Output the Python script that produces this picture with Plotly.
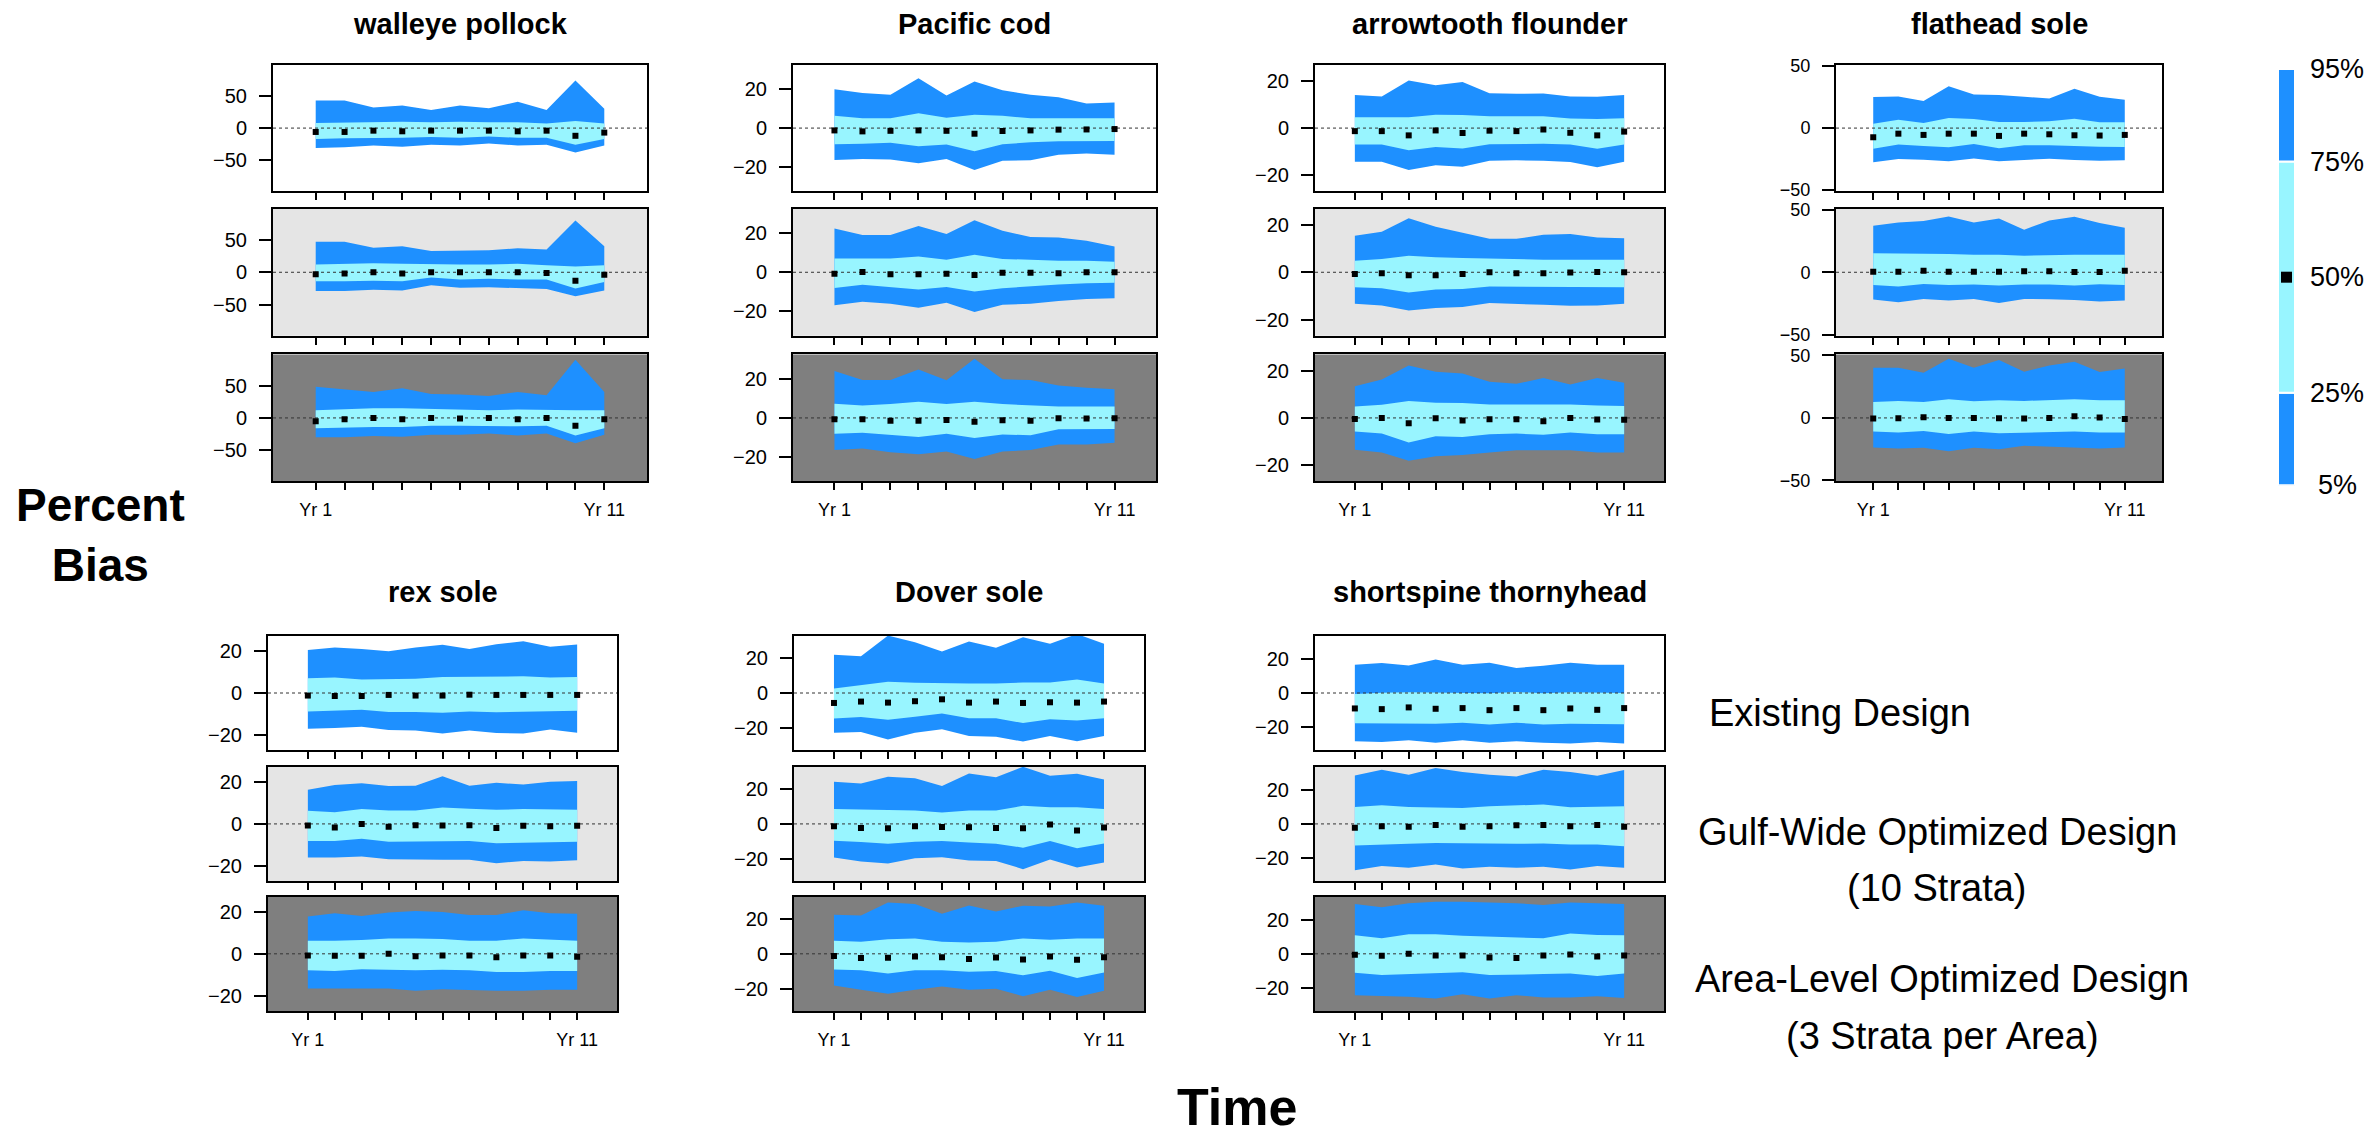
import plotly.graph_objects as go

# ---------------------------------------------------------------------------
# Percent bias quantiles by year (Yr 1 .. Yr 11).
# Each list holds three rows: Existing, Gulf-Wide (10 strata), Area-Level.
# ---------------------------------------------------------------------------
years = list(range(1, 12))
year_labels = ["Yr 1"] + [""] * 9 + ["Yr 11"]

species_names = ["walleye pollock", "Pacific cod", "arrowtooth flounder", "flathead sole",
                 "rex sole", "Dover sole", "shortspine thornyhead"]

walleye_q95 = [[43, 43, 32, 35, 28, 35, 31, 41, 28, 74, 30],
               [47, 47, 38, 40, 33, 33, 34, 37, 35, 80, 40],
               [48, 44, 40, 46, 37, 36, 34, 40, 35, 90, 40]]
walleye_q75 = [[8, 9, 10, 10, 9, 10, 9, 9, 7, 11, 7],
               [12, 13, 14, 13, 12, 12, 12, 13, 11, 9, 11],
               [12, 14, 15, 15, 14, 13, 12, 13, 12, 12, 12]]
walleye_q50 = [[-6, -6, -4, -5, -4, -4, -4, -5, -4, -12, -7],
               [-3, -2, 0, -2, 0, 0, 0, 0, -1, -13, -4],
               [-5, -2, 0, -2, 0, -1, 0, -2, 0, -12, -2]]
walleye_q25 = [[-17, -16, -15, -15, -14, -15, -13, -15, -15, -26, -17],
               [-14, -14, -13, -14, -8, -11, -10, -11, -11, -25, -15],
               [-16, -15, -14, -14, -12, -12, -12, -13, -12, -27, -16]]
walleye_q05 = [[-31, -30, -27, -29, -26, -27, -24, -27, -26, -38, -27],
               [-29, -29, -27, -28, -20, -24, -23, -25, -26, -37, -28],
               [-30, -30, -28, -29, -26, -26, -24, -27, -24, -39, -26]]

cod_q95 = [[20, 18.1, 17.1, 25.6, 16.8, 24, 19.5, 17.1, 15.8, 12.7, 13.2],
           [22.4, 19, 19, 23.6, 19.5, 26.6, 21.2, 18, 17.8, 16.1, 13.2],
           [23.9, 19.3, 19.3, 24.7, 19.2, 30.2, 19.7, 19.3, 16.6, 15.4, 14.6]]
cod_q75 = [[6.4, 5.1, 5.1, 7.6, 5.3, 6.8, 6.3, 5.1, 5.1, 5.1, 5.1],
           [7, 7, 7, 8.1, 6.4, 9, 6.8, 6.4, 5.9, 5.9, 5.4],
           [7.3, 6.3, 7.1, 8.3, 7.1, 8.3, 7.1, 6.3, 5.8, 5.8, 5.8]]
cod_q50 = [[-1.2, -1.7, -1.4, -1.2, -1.4, -2.9, -1.5, -1.2, -0.8, -0.7, -0.5],
           [-0.7, 0.2, -1, -1, -0.8, -1.4, -0.3, -0.2, -0.5, 0, 0],
           [-0.7, -0.7, -1.4, -1.4, -1, -1.9, -1.2, -1.4, -0.2, -0.3, -0.2]]
cod_q25 = [[-8.3, -8, -7.6, -9.3, -8.5, -11.9, -8.3, -7.3, -6.8, -6.6, -6.6],
           [-8, -6.4, -7.6, -8.8, -7.5, -9.8, -8.1, -7.3, -6.3, -5.6, -5.4],
           [-8.1, -7.5, -8.6, -9.7, -8.1, -10.3, -8.5, -8.8, -5.8, -5.6, -5.6]]
cod_q05 = [[-16.4, -15.9, -16.1, -18.1, -15.9, -21.5, -16.8, -16.6, -13.7, -13.1, -13.7],
           [-16.8, -15.1, -16.1, -18.1, -15.6, -20.3, -16.6, -16.1, -14.7, -13.7, -13.2],
           [-16.4, -15.6, -17.5, -18.5, -17.1, -21, -17.1, -16.4, -13.6, -13.6, -12.7]]

arrowtooth_q95 = [[14.1, 13.4, 20.3, 18.2, 19.6, 14.8, 14.6, 14.7, 13.4, 13.3, 14.1],
                  [15.4, 17.1, 22.8, 19.2, 16.7, 14.1, 14.1, 15.8, 16.2, 14.7, 14.4],
                  [13.4, 16.2, 22.1, 19.5, 18.8, 15.3, 14.4, 16.9, 14.1, 16.9, 14.8]]
arrowtooth_q75 = [[4.6, 4.6, 4.6, 5.7, 5.6, 5, 5, 5, 4.1, 3.9, 4.2],
                  [4.9, 5.6, 7, 6.3, 6, 5.7, 5.6, 5.3, 5.3, 5.3, 5.3],
                  [4.8, 5.6, 7.1, 6.4, 6.3, 5.7, 5.7, 5.7, 5.7, 5.3, 5]]
arrowtooth_q50 = [[-1.3, -1.3, -3.1, -1, -2.1, -1.1, -1.3, -0.6, -2, -3.1, -1.5],
                  [-0.7, -0.4, -1.3, -1.3, -0.7, 0, -0.4, -0.4, -0.1, 0.1, 0],
                  [-0.4, 0, -2.2, -0.1, -1.1, -0.6, -0.6, -1.4, 0, -0.7, -0.8]]
arrowtooth_q25 = [[-7, -7, -9.4, -8, -8.7, -6.9, -6.7, -6.7, -7, -8.8, -7],
                  [-6.3, -6.7, -8.5, -7.3, -7.1, -6, -6.2, -6.3, -6.3, -6.3, -6.3],
                  [-5.7, -6.6, -10.4, -7.7, -8, -6.9, -6.6, -7.1, -6.2, -6.9, -6.9]]
arrowtooth_q05 = [[-14.3, -14.3, -17.8, -15.8, -16.5, -13.9, -13.7, -13.9, -14.4, -16.7, -14.3],
                  [-13.3, -14, -16.1, -15.1, -14.7, -13, -13.3, -13.7, -14.1, -14, -13.3],
                  [-13.4, -14.6, -18.1, -16.2, -15.7, -14.6, -13.6, -13.6, -13.6, -14.6, -14.6]]

flathead_q95 = [[25, 25.5, 21.8, 33.7, 27.1, 26.6, 25.2, 23.9, 31.8, 25.2, 22.9],
                [37.2, 39.9, 41, 44.7, 39.9, 43.1, 34, 41.5, 44.4, 39.4, 35.6],
                [40.2, 40.2, 36.2, 47.3, 40.2, 46.3, 37, 42, 45, 36.7, 39.6]]
flathead_q75 = [[3.4, 6.8, 4.2, 8.2, 7.4, 5, 5, 5.5, 7.6, 4.7, 4.7],
                [15.2, 15.2, 14.6, 14.6, 14.1, 14.1, 13.3, 13.8, 14.1, 14.1, 14.1],
                [12.8, 13.6, 12.8, 14.9, 13.3, 14.1, 13.6, 14.1, 14.9, 14.1, 14.1]]
flathead_q50 = [[-7.4, -4.5, -5.5, -4.5, -4.5, -6.3, -4.5, -5, -5.8, -6, -5.5],
                [0.5, 0.5, 1.3, 0.5, 0.5, 0.5, 0.8, 0.8, 0.3, 0.3, 1.3],
                [-0.5, -0.3, 0.5, 0, 0, -0.3, -0.5, 0, 1.3, 0.3, -0.8]]
flathead_q25 = [[-16.6, -13.2, -14.5, -15.5, -12.9, -16.3, -13.9, -13.9, -14.2, -15, -15.3],
                [-10.1, -11.4, -9.3, -10.1, -9.8, -10.6, -9.8, -9.8, -10.6, -9.6, -10.1],
                [-10.9, -11.7, -10.4, -12.8, -10.9, -12.2, -11.7, -11.2, -10.9, -11.7, -11.7]]
flathead_q05 = [[-27.6, -25, -25.5, -26.8, -24.5, -26.8, -25.5, -24.7, -25.8, -26.3, -26],
                [-21.8, -23.9, -21.3, -22.6, -21.3, -24.5, -21.3, -21.5, -22.1, -23.4, -22.6],
                [-23.7, -24.5, -23.9, -26.6, -23.9, -25, -22.3, -23.1, -23.9, -24.5, -23.7]]

rex_q95 = [[20.3, 21.5, 20.8, 19.8, 21.5, 22.8, 20.8, 23.1, 24.5, 21.9, 22.9],
           [16.1, 18.4, 19.2, 17.9, 18.1, 22.6, 18.1, 19.5, 18.6, 20, 20.3],
           [17.6, 19.2, 17.9, 19.5, 20.3, 19.8, 18.4, 18.4, 20.6, 19.2, 19]]
rex_q75 = [[7, 7.3, 6.4, 6.7, 6.8, 7.6, 7.6, 7.9, 7.9, 7.3, 7.6],
           [6.2, 5.5, 7, 6.4, 6.4, 7.8, 7.2, 6.7, 7, 7, 6.7],
           [6.2, 6.2, 6.6, 7.3, 7.3, 7, 6.2, 6.2, 7.3, 6.7, 6.2]]
rex_q50 = [[-1.2, -1.4, -1.4, -0.9, -1.2, -1.2, -0.8, -0.9, -0.9, -0.9, -0.9],
           [-0.8, -1.7, 0, -1.4, -0.6, -0.8, -0.6, -1.9, -0.9, -1.1, -0.9],
           [-0.8, -0.9, -0.9, 0, -1.2, -0.8, -0.8, -1.6, -0.8, -0.8, -1.4]]
rex_q25 = [[-8.7, -8.2, -7.9, -9, -9, -9.3, -8.7, -9.1, -8.7, -8.7, -8.4],
           [-8.1, -8.1, -7, -8.4, -8.1, -8.1, -8.1, -9.2, -8.9, -8.6, -8.4],
           [-7.8, -8.1, -7.3, -7.5, -7.8, -7.5, -7.8, -8.6, -8.6, -8.1, -8.1]]
rex_q05 = [[-16.9, -16.6, -16, -17.5, -17.7, -19.1, -17.7, -18.9, -19.1, -17.2, -18.8],
           [-15.9, -15.9, -15.4, -16.7, -17, -17, -17, -18.6, -17.5, -17.8, -17.2],
           [-16.4, -16.5, -16.4, -16.4, -17.5, -16.7, -17.2, -17.5, -17.5, -17, -17]]

dover_q95 = [[21.9, 21, 32.9, 29.1, 23.8, 29.5, 25.9, 31.9, 28.2, 33.8, 28.2],
             [24.2, 23.2, 27, 26.1, 21.7, 28.9, 26.8, 32.7, 27.6, 28.7, 25.5],
             [22.4, 21.9, 29.4, 28.6, 23, 27.7, 24.3, 27.5, 27.1, 29.4, 27.5]]
dover_q75 = [[2.6, 4.5, 6.4, 5.9, 5.5, 5.5, 5.5, 6, 6, 7.7, 5.5],
             [8.5, 8.1, 8.1, 7.7, 6.6, 7.7, 7.7, 10.4, 9.5, 9.5, 8.5],
             [7.5, 6.9, 8.4, 8.8, 6.9, 6.5, 6.9, 8.8, 8, 8.8, 8.8]]
dover_q50 = [[-5.7, -4.9, -5.5, -4.7, -3.6, -5.5, -4.9, -5.7, -5.3, -5.5, -4.9],
             [-1.3, -2.3, -2.5, -1.3, -1.7, -1.9, -2.3, -2.5, -0.4, -3.8, -2.1],
             [-1.3, -2.4, -2.2, -1.5, -1.9, -3, -2.1, -3.2, -1.5, -3.4, -1.9]]
dover_q25 = [[-14.6, -13.8, -15.3, -13.6, -11.7, -14.4, -14.4, -17.2, -15.1, -15.7, -14.4],
             [-9.6, -10.4, -11.3, -10.2, -9.8, -10.6, -11.3, -13.6, -9.8, -14, -11.2],
             [-9, -9.4, -11.2, -9.4, -9.4, -10.3, -9.9, -12.3, -9.7, -13.8, -10.7]]
dover_q05 = [[-22.7, -22.3, -26.6, -22.7, -20.8, -24.6, -25.1, -27.8, -24.6, -27.6, -24.6],
             [-19.3, -21.5, -22.7, -19.7, -19.1, -21, -21.2, -25.9, -20.4, -24.9, -22.1],
             [-18.1, -20.6, -22.8, -20.6, -18.7, -20.6, -20, -24.3, -20.6, -24.7, -21.1]]

shortspine_q95 = [[16.5, 17.5, 16.1, 19.6, 16.5, 17.7, 14.6, 15.9, 17.7, 16.5, 16.5],
                  [28.3, 31.6, 28.7, 32.6, 30.3, 28.7, 27.7, 31.6, 30.3, 28.1, 31.4],
                  [29.1, 27.2, 29.5, 30.4, 30.4, 30, 29.5, 28.5, 30, 29.5, 29.1]]
shortspine_q75 = [[-0.6, 0.2, 0.4, 0.2, 0, -0.2, 0.6, -0.2, 0.4, 0, 0],
                  [9.9, 10.9, 9.9, 9.7, 9.3, 10.3, 10.7, 11.3, 9.7, 9.9, 10.3],
                  [10.8, 9.1, 11.4, 11.4, 10.5, 10.1, 9.5, 9.1, 11.8, 11, 10.8]]
shortspine_q50 = [[-9, -9.4, -8.4, -9.2, -8.8, -10, -8.8, -10, -9, -9.8, -8.8],
                  [-2.3, -1.4, -1.7, -0.6, -1.6, -1.4, -0.8, -0.6, -1.4, -0.6, -1.6],
                  [-0.6, -1.1, 0, -1, -1, -2.1, -2.5, -1, -0.4, -1.5, -1]]
shortspine_q25 = [[-17.7, -17.9, -17.7, -17.9, -17.3, -18.4, -17.3, -18.4, -17.9, -18.2, -18.2],
                  [-12.6, -12, -11.6, -11.1, -11.4, -11.4, -11.6, -11.4, -12, -12, -13],
                  [-11, -12.4, -11.8, -11.4, -10.8, -12.4, -12, -11.8, -11.4, -12.9, -11.4]]
shortspine_q05 = [[-28.2, -28.6, -27.6, -29, -27.6, -29, -28.2, -29, -29.4, -28.6, -29.4],
                  [-27, -24.6, -25.6, -23.7, -26, -25, -25.6, -25, -26.6, -24.6, -25.6],
                  [-24.1, -24.7, -25.1, -26, -23.6, -26, -24.1, -25.5, -25.5, -24.7, -25.7]]

# quantile key
legend_levels = [5, 25, 50, 75, 95]
legend_labels = ["5%", "25%", "50%", "75%", "95%"]

# ---------------------------------------------------------------------------
# Figure geometry (pixels) and styling
# ---------------------------------------------------------------------------
W, H = 2379, 1139
OUTER = "#1E90FF"    # 5%-95% band
INNER = "#98F5FF"    # 25%-75% band
PANEL_BG = ["#FFFFFF", "#E5E5E5", "#7F7F7F"]
FONT = "Liberation Sans, Arial, sans-serif"

species_data = [
    (walleye_q05, walleye_q25, walleye_q50, walleye_q75, walleye_q95),
    (cod_q05, cod_q25, cod_q50, cod_q75, cod_q95),
    (arrowtooth_q05, arrowtooth_q25, arrowtooth_q50, arrowtooth_q75, arrowtooth_q95),
    (flathead_q05, flathead_q25, flathead_q50, flathead_q75, flathead_q95),
    (rex_q05, rex_q25, rex_q50, rex_q75, rex_q95),
    (dover_q05, dover_q25, dover_q50, dover_q75, dover_q95),
    (shortspine_q05, shortspine_q25, shortspine_q50, shortspine_q75, shortspine_q95),
]

col_px = [(273, 647), (793, 1156), (1315, 1664), (1836, 2162),
          (268, 617), (794, 1144), (1315, 1664)]
top_rows = [(57, 185), (203, 332), (351, 480)]
bottom_rows = [(637, 753), (770, 886), (902, 1018)]
y_half = [98, 32.4, 26.8, 50.8, 27, 32.7, 33.3]
y_ticks = [[-50, 0, 50], [-20, 0, 20], [-20, 0, 20], [-50, 0, 50],
           [-20, 0, 20], [-20, 0, 20], [-20, 0, 20]]
y_tick_size = [20, 20, 20, 18, 20, 20, 20]
title_y = [15, 15, 15, 15, 592, 592, 592]
X_RANGE = [-0.48, 12.48]


def xdom(a, b):
    return [a / W, b / W]


def ydom(top, bottom):
    return [1 - bottom / H, 1 - top / H]


fig = go.Figure()
layout = dict(width=W, height=H, margin=dict(l=0, r=0, t=0, b=0),
              paper_bgcolor="white", plot_bgcolor="rgba(0,0,0,0)",
              showlegend=False, barmode="overlay",
              font=dict(family=FONT, color="black"))
shapes = []
annotations = []

k = 0
for s, (q05, q25, q50, q75, q95) in enumerate(species_data):
    rows = top_rows if s < 4 else bottom_rows
    x0, x1 = col_px[s]
    for d in range(3):
        k += 1
        xa = "x" if k == 1 else f"x{k}"
        ya = "y" if k == 1 else f"y{k}"
        xkey = "xaxis" if k == 1 else f"xaxis{k}"
        ykey = "yaxis" if k == 1 else f"yaxis{k}"
        last = d == 2
        layout[xkey] = dict(
            domain=xdom(x0, x1), anchor=ya, range=X_RANGE,
            tickmode="array", tickvals=years,
            ticktext=year_labels if last else [""] * 11,
            ticks="outside", ticklen=7, tickwidth=2, tickcolor="black",
            ticklabelstandoff=4,
            showline=True, mirror=True, linewidth=2, linecolor="black",
            showgrid=False, zeroline=False,
            tickfont=dict(size=18, family=FONT, color="black"))
        layout[ykey] = dict(
            domain=ydom(*rows[d]), anchor=xa,
            range=[-y_half[s], y_half[s]],
            tickmode="array", tickvals=y_ticks[s],
            ticks="outside", ticklen=12, tickwidth=2, tickcolor="black",
            ticklabelstandoff=8,
            showline=True, mirror=True, linewidth=2, linecolor="black",
            showgrid=False, zeroline=False,
            tickfont=dict(size=y_tick_size[s], family=FONT, color="black"))

        # panel background
        shapes.append(dict(type="rect", xref=f"{xa} domain", yref=f"{ya} domain",
                           x0=0, x1=1, y0=0, y1=1, layer="below",
                           fillcolor=PANEL_BG[d], line=dict(width=0)))

        # 5%-95% band and 25%-75% band as closed polygons
        fig.add_trace(go.Scatter(
            x=years + years[::-1], y=q95[d] + q05[d][::-1],
            fill="toself", fillcolor=OUTER, mode="lines",
            line=dict(width=0, color=OUTER), xaxis=xa, yaxis=ya,
            hoverinfo="skip"))
        fig.add_trace(go.Scatter(
            x=years + years[::-1], y=q75[d] + q25[d][::-1],
            fill="toself", fillcolor=INNER, mode="lines",
            line=dict(width=0, color=INNER), xaxis=xa, yaxis=ya,
            hoverinfo="skip"))
        # dotted zero reference
        fig.add_trace(go.Scatter(
            x=X_RANGE, y=[0, 0], mode="lines",
            line=dict(width=1, color="#333333", dash="dot"),
            xaxis=xa, yaxis=ya, hoverinfo="skip"))
        # medians
        fig.add_trace(go.Scatter(
            x=years, y=q50[d], mode="markers",
            marker=dict(symbol="square", size=6, color="black"),
            xaxis=xa, yaxis=ya))

    annotations.append(dict(
        text=f"<b>{species_names[s]}</b>", x=(x0 + x1) / 2 / W, y=1 - title_y[s] / H,
        xref="paper", yref="paper", xanchor="center", yanchor="middle",
        showarrow=False, font=dict(size=29, family=FONT, color="black")))

# ---------------------------------------------------------------------------
# Quantile key on the right
# ---------------------------------------------------------------------------
k += 1
layout[f"xaxis{k}"] = dict(domain=xdom(2278, 2295), anchor=f"y{k}", range=[-0.5, 0.5],
                           visible=False, fixedrange=True)
layout[f"yaxis{k}"] = dict(domain=ydom(61, 484), anchor=f"x{k}", range=[5, 95],
                           visible=False, fixedrange=True)
band_lo = [legend_levels[0], legend_levels[1], legend_levels[3]]
band_hi = [legend_levels[1], legend_levels[3], legend_levels[4]]
fig.add_trace(go.Bar(
    x=[0, 0, 0], y=[h - l for l, h in zip(band_lo, band_hi)], base=band_lo,
    width=1, marker=dict(color=[OUTER, INNER, OUTER], line=dict(color="white", width=2)),
    xaxis=f"x{k}", yaxis=f"y{k}", hoverinfo="skip"))
fig.add_trace(go.Scatter(
    x=[0], y=[legend_levels[2]], mode="markers",
    marker=dict(symbol="square", size=11, color="black"),
    xaxis=f"x{k}", yaxis=f"y{k}", cliponaxis=False))
for lev, lab in zip(legend_levels, legend_labels):
    annotations.append(dict(
        text=lab, x=2337 / W, y=lev, xref="paper", yref=f"y{k}",
        xanchor="center", yanchor="middle", showarrow=False,
        font=dict(size=27, family=FONT, color="black")))

# ---------------------------------------------------------------------------
# Shared axis titles and design labels
# ---------------------------------------------------------------------------
annotations.append(dict(text="<b>Percent<br>Bias</b>", x=100 / W, y=1 - 534 / H,
                        xref="paper", yref="paper", xanchor="center", yanchor="middle",
                        showarrow=False, font=dict(size=46, family=FONT, color="black")))
annotations.append(dict(text="<b>Time</b>", x=1237 / W, y=1 - 1116 / H,
                        xref="paper", yref="paper", xanchor="center", yanchor="middle",
                        showarrow=False, font=dict(size=52, family=FONT, color="black")))

design_lines = [("Existing Design", 1840, 715),
                ("Gulf-Wide Optimized Design", 1937, 836),
                ("(10 Strata)", 1937, 893),
                ("Area-Level Optimized Design", 1942, 986),
                ("(3 Strata per Area)", 1942, 1043)]
for txt, cx, cy in design_lines:
    annotations.append(dict(text=txt, x=cx / W, y=1 - cy / H,
                            xref="paper", yref="paper", xanchor="center", yanchor="middle",
                            showarrow=False, font=dict(size=38, family=FONT, color="black")))

layout["shapes"] = shapes
layout["annotations"] = annotations
fig.update_layout(**layout)
fig.write_html("out.html")
